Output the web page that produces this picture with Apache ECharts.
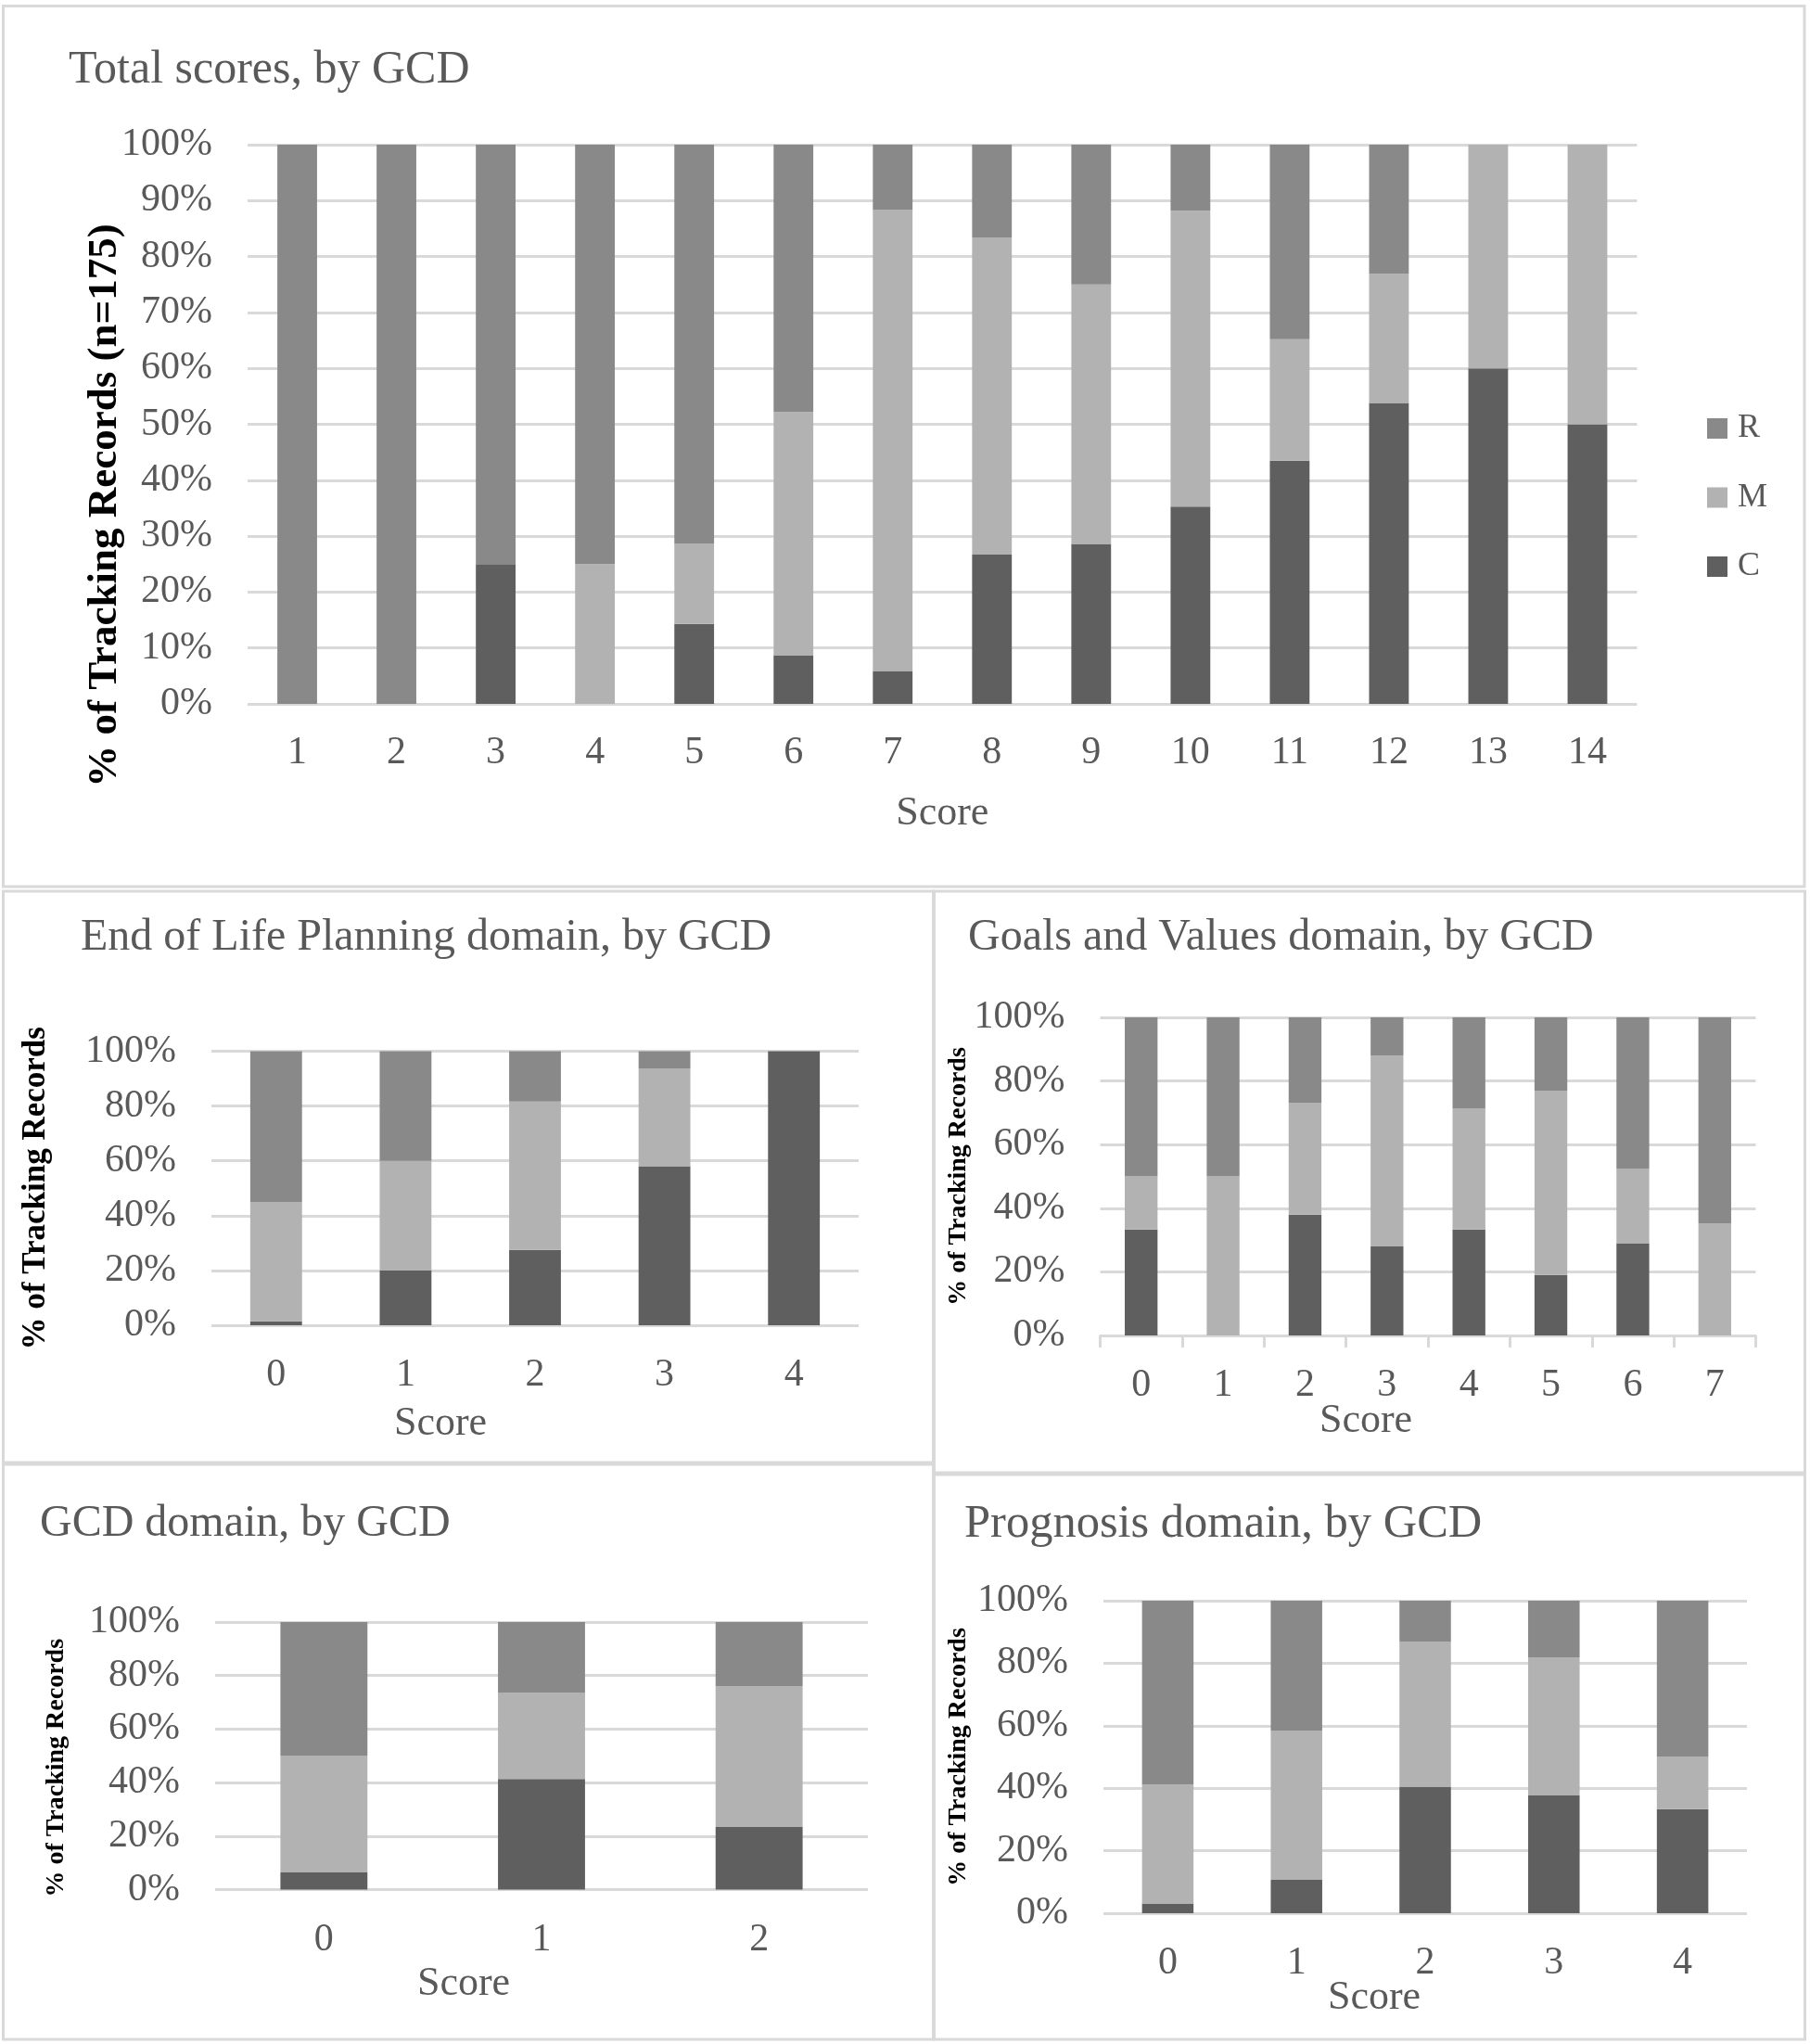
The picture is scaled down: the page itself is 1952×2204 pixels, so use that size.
<!DOCTYPE html>
<html>
<head>
<meta charset="utf-8">
<script src="https://cdn.jsdelivr.net/npm/echarts@6/dist/echarts.min.js"></script>
<style>
html,body{margin:0;padding:0;background:#ffffff;}
#chart{width:1952px;height:2204px;}
</style>
</head>
<body>
<div id="chart"></div>
<script>
// ---------------- DATA ----------------
const legendNames = ['R', 'M', 'C'];
const yAxisNameTotal = '% of Tracking Records (n=175)';
const yAxisNameDomain = '% of Tracking Records';
const xAxisName = 'Score';

const totalTitle = 'Total scores, by GCD';
const totalCats = ['1','2','3','4','5','6','7','8','9','10','11','12','13','14'];
const totalC = [0, 0, 25, 0, 14.3, 8.7, 5.9, 26.7, 28.6, 35.3, 43.5, 53.8, 60, 50];
const totalM = [0, 0, 0, 25, 14.3, 43.5, 82.4, 56.7, 46.4, 52.9, 21.7, 23.1, 40, 50];
const totalR = [100, 100, 75, 75, 71.4, 47.8, 11.8, 16.7, 25, 11.8, 34.8, 23.1, 0, 0];

const eolTitle = 'End of Life Planning domain, by GCD';
const eolCats = ['0','1','2','3','4'];
const eolC = [1.4, 20, 27.5, 58, 100];
const eolM = [43.4, 40, 54.1, 35.6, 0];
const eolR = [55.2, 40, 18.4, 6.4, 0];

const goalsTitle = 'Goals and Values domain, by GCD';
const goalsCats = ['0','1','2','3','4','5','6','7'];
const goalsC = [33.3, 0, 38, 28, 33.3, 19, 29, 0];
const goalsM = [16.7, 50, 35, 60, 38, 58, 23.5, 35.3];
const goalsR = [50, 50, 27, 12, 28.7, 23, 47.5, 64.7];

const gcdTitle = 'GCD domain, by GCD';
const gcdCats = ['0','1','2'];
const gcdC = [6.4, 41.3, 23.4];
const gcdM = [43.5, 32.4, 52.7];
const gcdR = [50.1, 26.3, 23.9];

const progTitle = 'Prognosis domain, by GCD';
const progCats = ['0','1','2','3','4'];
const progC = [3.1, 10.7, 40.5, 37.7, 33.3];
const progM = [38.1, 47.6, 46.3, 44.2, 16.7];
const progR = [58.8, 41.7, 13.2, 18.1, 50];

// ---------------- STYLE / LAYOUT ----------------
const FONT = '"Liberation Serif", "Times New Roman", serif';
const GRAY = '#595959';
const LINE = '#d9d9d9';
const COLORS = { C: '#5f5f5f', M: '#b2b2b2', R: '#898989' };

const panels = [
  { title: totalTitle, cats: totalCats, C: totalC, M: totalM, R: totalR, interval: 10,
    grid: { left: 267, top: 156, width: 1498.5, height: 603 }, titlePos: { left: 74, top: 51 }, titleSize: 50,
    yName: yAxisNameTotal, yNameSize: 45, yNameGap: 131, yNamePad: [0, 175, 0, 0],
    xLabelMargin: 32, xNameGap: 96, xNamePad: [0, 0, 0, 0], axisLine: false },
  { title: eolTitle, cats: eolCats, C: eolC, M: eolM, R: eolR, interval: 20,
    grid: { left: 228, top: 1133.5, width: 698, height: 295.5 }, titlePos: { left: 87, top: 987 }, titleSize: 48,
    yName: yAxisNameDomain, yNameSize: 35, yNameGap: 172, yNamePad: [0, 0, 0, 0],
    xLabelMargin: 33, xNameGap: 84, xNamePad: [0, 204, 0, 0], axisLine: false },
  { title: goalsTitle, cats: goalsCats, C: goalsC, M: goalsM, R: goalsR, interval: 20,
    grid: { left: 1186.5, top: 1097, width: 707, height: 343 }, titlePos: { left: 1044, top: 987 }, titleSize: 48,
    yName: yAxisNameDomain, yNameSize: 28, yNameGap: 139, yNamePad: [0, 0, 0, 0],
    xLabelMargin: 33, xNameGap: 70, xNamePad: [0, 134, 0, 0], axisLine: true },
  { title: gcdTitle, cats: gcdCats, C: gcdC, M: gcdM, R: gcdR, interval: 20,
    grid: { left: 232, top: 1749, width: 704, height: 288.5 }, titlePos: { left: 43, top: 1619 }, titleSize: 48,
    yName: yAxisNameDomain, yNameSize: 28, yNameGap: 157, yNamePad: [0, 26, 0, 0],
    xLabelMargin: 33, xNameGap: 80, xNamePad: [0, 168, 0, 0], axisLine: false },
  { title: progTitle, cats: progCats, C: progC, M: progM, R: progR, interval: 20,
    grid: { left: 1190, top: 1726, width: 694, height: 337 }, titlePos: { left: 1040, top: 1618 }, titleSize: 50.5,
    yName: yAxisNameDomain, yNameSize: 28, yNameGap: 142, yNamePad: [0, 0, 0, 0],
    xLabelMargin: 33, xNameGap: 69, xNamePad: [0, 110, 0, 0], axisLine: false }
];

const borders = [
  { x: 3.5, y: 6.5, w: 1942.5, h: 949.5 },
  { x: 3.5, y: 961, w: 1003, h: 616 },
  { x: 1007.5, y: 961, w: 939, h: 627 },
  { x: 3.5, y: 1579, w: 1003, h: 620 },
  { x: 1007.5, y: 1590, w: 939, h: 609 }
];

// ---------------- BUILD ----------------
const option = {
  backgroundColor: '#ffffff',
  animation: false,
  title: [], grid: [], xAxis: [], yAxis: [], series: [],
  legend: {
    data: legendNames,
    orient: 'vertical',
    left: 1836, top: 439,
    itemWidth: 22, itemHeight: 22, itemGap: 38.5,
    icon: 'rect',
    selectedMode: false,
    textStyle: { fontFamily: FONT, fontSize: 36, lineHeight: 36, color: GRAY, padding: [0, 0, 0, 6] }
  },
  graphic: borders.map(b => ({
    type: 'rect', silent: true, z: 100,
    shape: { x: b.x, y: b.y, width: b.w, height: b.h },
    style: { fill: 'none', stroke: LINE, lineWidth: 3 }
  }))
};

panels.forEach((p, i) => {
  option.title.push({
    text: p.title, left: p.titlePos.left, top: p.titlePos.top, padding: 0,
    textStyle: { fontFamily: FONT, fontSize: p.titleSize, fontWeight: 'normal', color: GRAY, lineHeight: p.titleSize }
  });
  option.grid.push(Object.assign({ containLabel: false, outerBoundsMode: 'none' }, p.grid));
  option.xAxis.push({
    type: 'category', gridIndex: i, data: p.cats,
    name: xAxisName, nameLocation: 'middle', nameGap: p.xNameGap, nameMoveOverlap: false,
    nameTextStyle: { fontFamily: FONT, fontSize: 44, lineHeight: 44, color: GRAY, padding: p.xNamePad },
    axisLine: { show: p.axisLine, lineStyle: { color: LINE, width: 3 } },
    axisTick: { show: p.axisLine, length: 13, lineStyle: { color: LINE, width: 3 } },
    axisLabel: { margin: p.xLabelMargin, fontFamily: FONT, fontSize: 42, lineHeight: 42, color: GRAY, interval: 0 },
    splitLine: { show: false }
  });
  option.yAxis.push({
    type: 'value', gridIndex: i, min: 0, max: 100, interval: p.interval,
    name: p.yName, nameLocation: 'middle', nameGap: p.yNameGap, nameMoveOverlap: false,
    nameTextStyle: { fontFamily: FONT, fontSize: p.yNameSize, lineHeight: p.yNameSize, fontWeight: 'bold', color: '#000000', padding: p.yNamePad },
    axisLine: { show: false }, axisTick: { show: false },
    axisLabel: { margin: 38, fontFamily: FONT, fontSize: 42, lineHeight: 42, color: GRAY, formatter: '{value}%' },
    splitLine: { show: true, lineStyle: { color: LINE, width: 3 } }
  });
  ['C', 'M', 'R'].forEach(k => {
    option.series.push({
      type: 'bar', name: k, stack: 'stack' + i,
      xAxisIndex: i, yAxisIndex: i,
      data: p[k],
      barCategoryGap: '60%',
      itemStyle: { color: COLORS[k] },
      emphasis: { disabled: true },
      z: 2
    });
  });
});

const chart = echarts.init(document.getElementById('chart'), null, { renderer: 'canvas' });
chart.setOption(option);
</script>
</body>
</html>
